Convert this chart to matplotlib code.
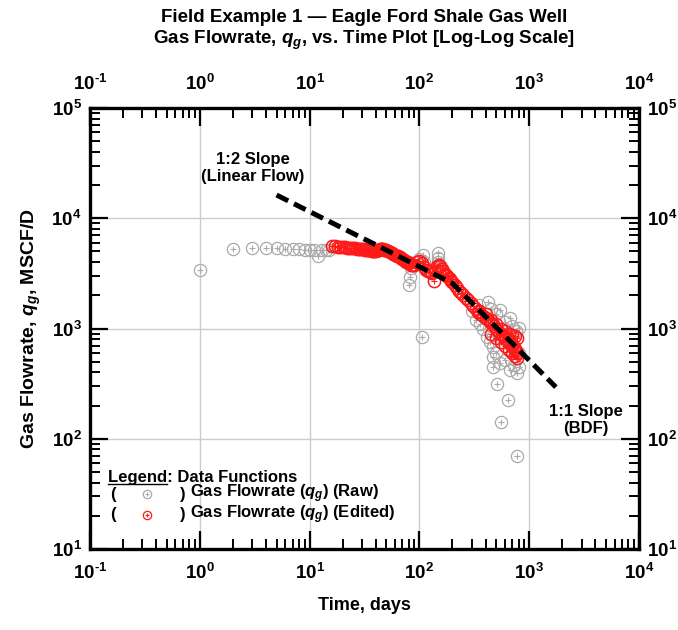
import matplotlib
matplotlib.use('Agg')
import matplotlib.pyplot as plt
from matplotlib.ticker import LogLocator, NullFormatter, FuncFormatter
from matplotlib.lines import Line2D
import numpy as np

plt.rcParams['font.family'] = ['Liberation Sans', 'DejaVu Sans']
plt.rcParams['font.weight'] = 'bold'
plt.rcParams['mathtext.fontset'] = 'custom'
plt.rcParams['mathtext.rm'] = 'Liberation Sans:bold'
plt.rcParams['mathtext.it'] = 'Liberation Sans:italic:bold'
plt.rcParams['mathtext.bf'] = 'Liberation Sans:bold'

# raw gas rate (days, MSCF/D) - points not covered by the edited set
raw_t = [1, 2, 3, 4, 5, 6, 7, 8, 9, 10, 11, 12, 13, 14, 15,
         80, 82, 83, 100, 105, 107, 110, 147, 148, 149, 150,
         300, 330, 350, 360, 380, 410, 420, 440, 450, 470, 470, 470, 500, 500,
         540, 540, 600, 600, 600, 670, 670, 700, 700, 720, 760, 770, 800, 800, 800,
         505, 555, 640, 770]
raw_q = [3400, 5250, 5400, 5350, 5350, 5300, 5250, 5250, 5200, 5200, 5150, 4550, 5100, 5100, 5150,
         2480, 2950, 3540, 4300, 835, 4640, 4000, 4840, 4400, 4000, 3600,
         1450, 1200, 1650, 1100, 1000, 840, 1730, 760, 1500, 680, 550, 447, 600, 1350,
         490, 1480, 520, 800, 1150, 420, 1245, 700, 1050, 470, 950, 395, 450, 600, 1020,
         316, 142, 225, 70]

# edited gas rate
edited_t = [16, 17, 18, 19, 20, 21, 22, 23, 24, 25, 26, 27, 28, 29, 30, 31, 32, 33, 34, 35,
            36, 37, 38, 39, 40, 41, 42, 43, 44, 45, 46, 47, 48, 49, 50, 52, 54, 56, 58, 60,
            62, 64, 66, 68, 70, 72, 74, 76, 78, 80, 83, 86, 90, 95, 100, 105, 110, 115,
            120, 125, 130, 137, 140, 145, 150, 155, 160, 165, 170, 175, 180, 185, 190, 195, 200,
            210, 220, 230, 240, 250, 265, 280, 295, 310, 325, 340, 360, 380, 400, 420, 440, 460,
            480, 500, 520, 540, 560, 580, 600, 620, 640, 660, 680, 700, 720, 740, 760, 780,
            350, 400, 450, 500, 550, 600, 650, 700, 750, 780,
            450, 500, 550, 600, 650, 700, 750, 780]
edited_q = [5550, 5560, 5540, 5500, 5480, 5450, 5420, 5400, 5380, 5350, 5330, 5300, 5280, 5250,
            5230, 5210, 5200, 5180, 5150, 5120, 5100, 5090, 5080, 5060, 5050, 5100, 5150, 5200,
            5250, 5300, 5300, 5250, 5200, 5150, 5100, 5000, 4900, 4800, 4720, 4650,
            4580, 4500, 4420, 4350, 4270, 4200, 4120, 4050, 3980, 3900, 3800, 3750, 3800, 4000,
            4100, 3900, 3600, 3400, 3300, 3250, 3200, 2700, 3300, 3700, 3800, 3700, 3500, 3300,
            3150, 3080, 3000, 2900, 2800, 2720, 2650,
            2500, 2350, 2200, 2100, 2000, 1900, 1800, 1700, 1600, 1500, 1400, 1350, 1300, 1250,
            1200, 1150, 1100, 1050, 1000, 950, 900, 880, 850, 820, 800, 780, 750, 720, 700, 680,
            650, 620, 600,
            1450, 1350, 1200, 1100, 1000, 950, 900, 870, 850, 820,
            900, 820, 750, 700, 640, 600, 560, 540]

# straight-line guides: 1:2 slope (linear flow) then 1:1 slope (BDF)
guide_t = [5, 200, 1750]
guide_q = [16250, 2570, 294]

GRAY = '#aaaaaa'
RED = '#ff1a1a'

fig = plt.figure(figsize=(6.78, 6.30), dpi=100)
ax = fig.add_axes([90/678, 81/630, 549/678, 441/630])
ax.set_xscale('log')
ax.set_yscale('log')
ax.set_xlim(0.1, 1e4)
ax.set_ylim(10, 1e5)


def plot_pts(t, q, color, ms, z, mew=0.9, trans=None):
    kw = {}
    if trans is not None:
        kw['transform'] = trans
        kw['clip_on'] = False
    ax.plot(t, q, 'o', ms=ms, mfc='none', mec=color, mew=mew, ls='none', zorder=z, **kw)
    ax.plot(t, q, '+', ms=ms*0.55, mec=color, mew=0.8, ls='none', zorder=z, **kw)


def decade(v, pos):
    n = int(round(np.log10(v)))
    if n < 0:
        # hyphen instead of the math minus, like the original
        return '$10^{\u2010%d}$' % (-n)
    return '$10^{%d}$' % n


plot_pts(raw_t, raw_q, GRAY, 8.8, 3)
plot_pts(edited_t, edited_q, RED, 8.8, 4, mew=1.1)
ax.plot(guide_t, guide_q, color='black', lw=3.6, dashes=(2.6, 1.3), zorder=5)

ax.grid(True, which='major', color='#cccccc', lw=1.0)
ax.set_axisbelow(True)
for s in ax.spines.values():
    s.set_linewidth(2.4)

for axis in (ax.xaxis, ax.yaxis):
    axis.set_major_locator(LogLocator(base=10, numticks=10))
    axis.set_minor_locator(LogLocator(base=10, subs=range(2, 10), numticks=10))
    axis.set_minor_formatter(NullFormatter())
    axis.set_major_formatter(FuncFormatter(decade))

ax.tick_params(which='both', direction='in', top=True, right=True,
               labeltop=True, labelright=True, labelsize=13.5)
ax.tick_params(which='major', length=13, width=1.6)
ax.tick_params(which='minor', length=7, width=1.4)
ax.tick_params(axis='x', which='major', pad=10)
ax.tick_params(axis='y', which='major', pad=6)

ax.set_xlabel('Time, days', fontsize=13, fontweight='bold', labelpad=10)
ax.set_ylabel('Gas Flowrate, $q_g$, MSCF/D', fontsize=14, fontweight='bold', labelpad=6)

fig.text(364/678, 1 - 18/630, 'Field Example 1 \u2014 Eagle Ford Shale Gas Well',
         ha='center', va='center', fontsize=13.5, fontweight='bold')
fig.text(364/678, 1 - 40/630, 'Gas Flowrate, $q_g$, vs. Time Plot [Log-Log Scale]',
         ha='center', va='center', fontsize=13.5, fontweight='bold')

# slope annotations
fig.text(253/678, 1 - 168/630, '1:2 Slope\n(Linear Flow)', ha='center', va='center',
         fontsize=12, fontweight='bold', linespacing=1.2)
fig.text(586/678, 1 - 420/630, '1:1 Slope\n(BDF)', ha='center', va='center',
         fontsize=12, fontweight='bold', linespacing=1.2)

# legend drawn as text, "Legend" underlined
fs = 12
fig.text(108/678, 1 - 482/630, 'Legend: Data Functions', ha='left', va='baseline',
         fontsize=fs, fontweight='bold')
probe = fig.text(108/678, 1 - 482/630, 'Legend', ha='left', va='baseline', fontsize=fs,
                 fontweight='bold', alpha=0)
fig.canvas.draw()
bb = probe.get_window_extent()
probe.remove()
uy = (630 - 484) / 630
fig.add_artist(Line2D([bb.x0 / 678, bb.x1 / 678], [uy, uy], color='black', lw=1.0))

rows = [(494, GRAY, 'Gas Flowrate ($q_g$) (Raw)'), (515, RED, 'Gas Flowrate ($q_g$) (Edited)')]
for y, col, label in rows:
    fy = 1 - y/630
    fig.text(110/678, fy, '(', ha='left', va='center', fontsize=fs, fontweight='bold')
    fig.text(180/678, fy, ')', ha='left', va='center', fontsize=fs, fontweight='bold')
    fig.text(190/678, fy, label, ha='left', va='center', fontsize=fs, fontweight='bold')
    plot_pts([147/678], [fy], col, 6, 6, trans=fig.transFigure)

fig.savefig('out.png', dpi=100)
